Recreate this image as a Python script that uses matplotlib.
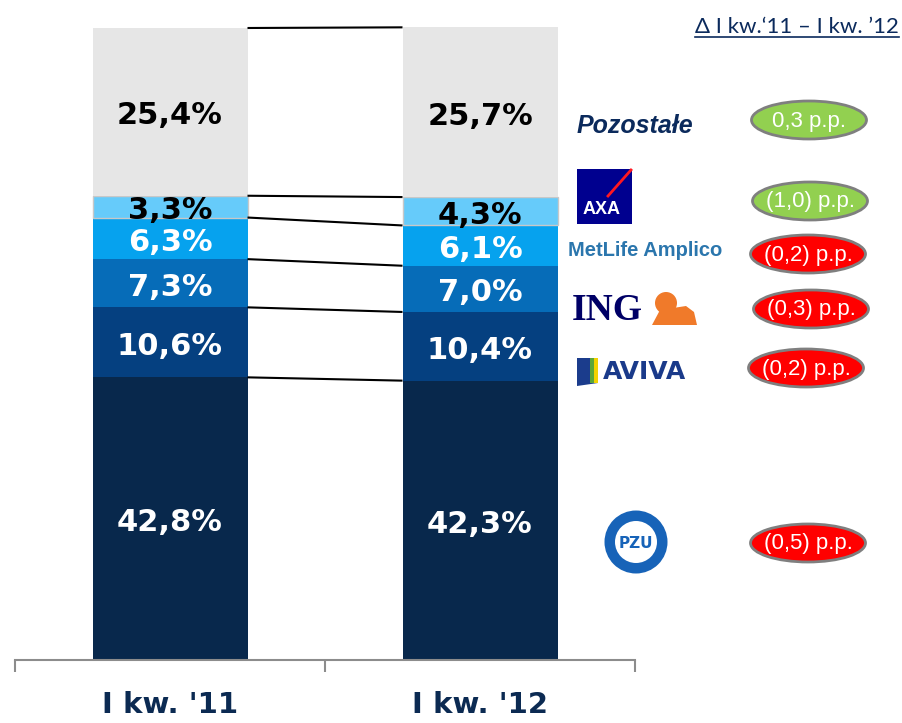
import matplotlib
matplotlib.use('Agg')
import matplotlib.pyplot as plt
from matplotlib.patches import Ellipse, Rectangle, Circle, Polygon

# Market shares (%), bottom to top
companies = ['PZU', 'Aviva', 'ING', 'MetLife Amplico', 'AXA', 'Pozostałe']
share_q1_11 = [42.8, 10.6, 7.3, 6.3, 3.3, 25.4]
share_q1_12 = [42.3, 10.4, 7.0, 6.1, 4.3, 25.7]
periods = ["I kw. '11", "I kw. '12"]

# change labels, top to bottom on the right side
delta_labels = ['0,3 p.p.', '(1,0) p.p.', '(0,2) p.p.', '(0,3) p.p.', '(0,2) p.p.', '(0,5) p.p.']
delta_positive = [True, True, False, False, False, False]

colors = ['#08284c', '#054080', '#066cb8', '#06a2ee', '#66cbfa', '#e6e6e6']
text_colors = ['white', 'white', 'white', 'white', 'black', 'black']

fig = plt.figure(figsize=(9.02, 7.23), dpi=100)
ax = fig.add_axes([15 / 902, 63 / 723, 620 / 902, 660 / 723])
ax.set_xlim(-0.5, 1.5)
ax.set_ylim(0, 660 / 6.604)

# stacked bars
for i, period_vals in enumerate([share_q1_11, share_q1_12]):
    bottom = 0
    for j, v in enumerate(period_vals):
        ec = '#c8c8c8' if j == 4 else 'none'
        ax.bar(i, v, bottom=bottom, width=0.5, color=colors[j], edgecolor=ec, linewidth=1)
        ax.text(i, bottom + v / 2 - 0.6, f'{v:.1f}%'.replace('.', ','), ha='center', va='center',
                fontsize=22, fontweight='bold', color=text_colors[j], zorder=5)
        bottom += v

# connector lines between segment boundaries
cum_l, cum_r = 0, 0
for a, b in zip(share_q1_11, share_q1_12):
    cum_l += a
    cum_r += b
    ax.plot([0.25, 0.75], [cum_l, cum_r], color='black', lw=1.5, solid_capstyle='butt')

# axis styling
for s in ['top', 'right', 'left']:
    ax.spines[s].set_visible(False)
ax.spines['bottom'].set_color('#8c8c8c')
ax.spines['bottom'].set_linewidth(1.5)
ax.set_yticks([])
ax.set_xticks([0, 1])
ax.set_xticklabels(periods, fontsize=21, fontweight='bold', color='#0b2a52')
ax.tick_params(axis='x', which='major', length=0, pad=22)
ax.set_xticks([-0.5, 0.5, 1.5], minor=True)
ax.tick_params(axis='x', which='minor', length=8.6, width=1.5, color='#8c8c8c', direction='out')

# overlay in pixel coordinates for the legend side
ov = fig.add_axes([0, 0, 1, 1])
ov.set_xlim(0, 902)
ov.set_ylim(723, 0)
ov.axis('off')

navy = '#0b2a5c'
hdr = ov.text(899, 33, 'Δ I kw.‘11 – I kw. ’12', ha='right', va='baseline',
              fontsize=16, color=navy, family='Lato')

# change ellipses
ell_x = [809, 810, 808, 811, 806, 808]
ell_y = [120, 201, 254, 309, 368, 543]
for lab, pos, ex, ey in zip(delta_labels, delta_positive, ell_x, ell_y):
    fc = '#92d050' if pos else '#ff0000'
    ov.add_patch(Ellipse((ex, ey), 115, 38, facecolor=fc, edgecolor='#7f7f7f', lw=2))
    ov.text(ex, ey + 1, lab, ha='center', va='center', fontsize=16, color='white',
            family='Liberation Sans')

# company marks
ov.text(577, 126, 'Pozostałe', ha='left', va='center', fontsize=18, fontweight='bold',
        fontstyle='italic', color=navy, family='Liberation Sans')

# AXA
ov.add_patch(Rectangle((577, 169), 55, 55, facecolor='#00008f'))
ov.plot([608, 631], [196, 170], color='#ff1721', lw=2)
ov.text(602, 209, 'AXA', ha='center', va='center', fontsize=13, fontweight='bold',
        color='white', family='Liberation Sans')

# MetLife Amplico
ov.text(568, 251, 'MetLife Amplico', ha='left', va='center', fontsize=14.5, fontweight='bold',
        color='#2b76ad', family='Liberation Sans')

# ING with a simple lion mark
ov.text(572, 311, 'ING', ha='left', va='center', fontsize=27, fontweight='bold',
        color='#000066', family='Liberation Serif')
ov.add_patch(Circle((666, 303), 11, facecolor='#f07a2a', edgecolor='none'))
ov.add_patch(Polygon([(652, 325), (660, 310), (686, 306), (694, 312), (697, 325)],
                     closed=True, facecolor='#f07a2a', edgecolor='none'))

# AVIVA
ov.add_patch(Polygon([(577, 358), (598, 358), (598, 383), (577, 386)], closed=True,
                     facecolor='#1b3c8c'))
ov.add_patch(Rectangle((590, 358), 4, 25, facecolor='#5aa63a'))
ov.add_patch(Rectangle((594, 358), 4, 25, facecolor='#f2d200'))
ov.text(603, 372, 'AVIVA', ha='left', va='center', fontsize=18, fontweight='bold',
        color='#1a3a8a')

# PZU
ov.add_patch(Circle((636, 542), 31.5, facecolor='#1763b8'))
ov.add_patch(Circle((636, 542), 21, facecolor='white'))
ov.text(636, 543, 'PZU', ha='center', va='center', fontsize=11, fontweight='bold',
        color='#1763b8')

# underline the header
fig.canvas.draw()
bb = hdr.get_window_extent()
ov.plot([bb.x0, bb.x1], [37, 37], color=navy, lw=1.2)

fig.savefig('out.png', dpi=100)
